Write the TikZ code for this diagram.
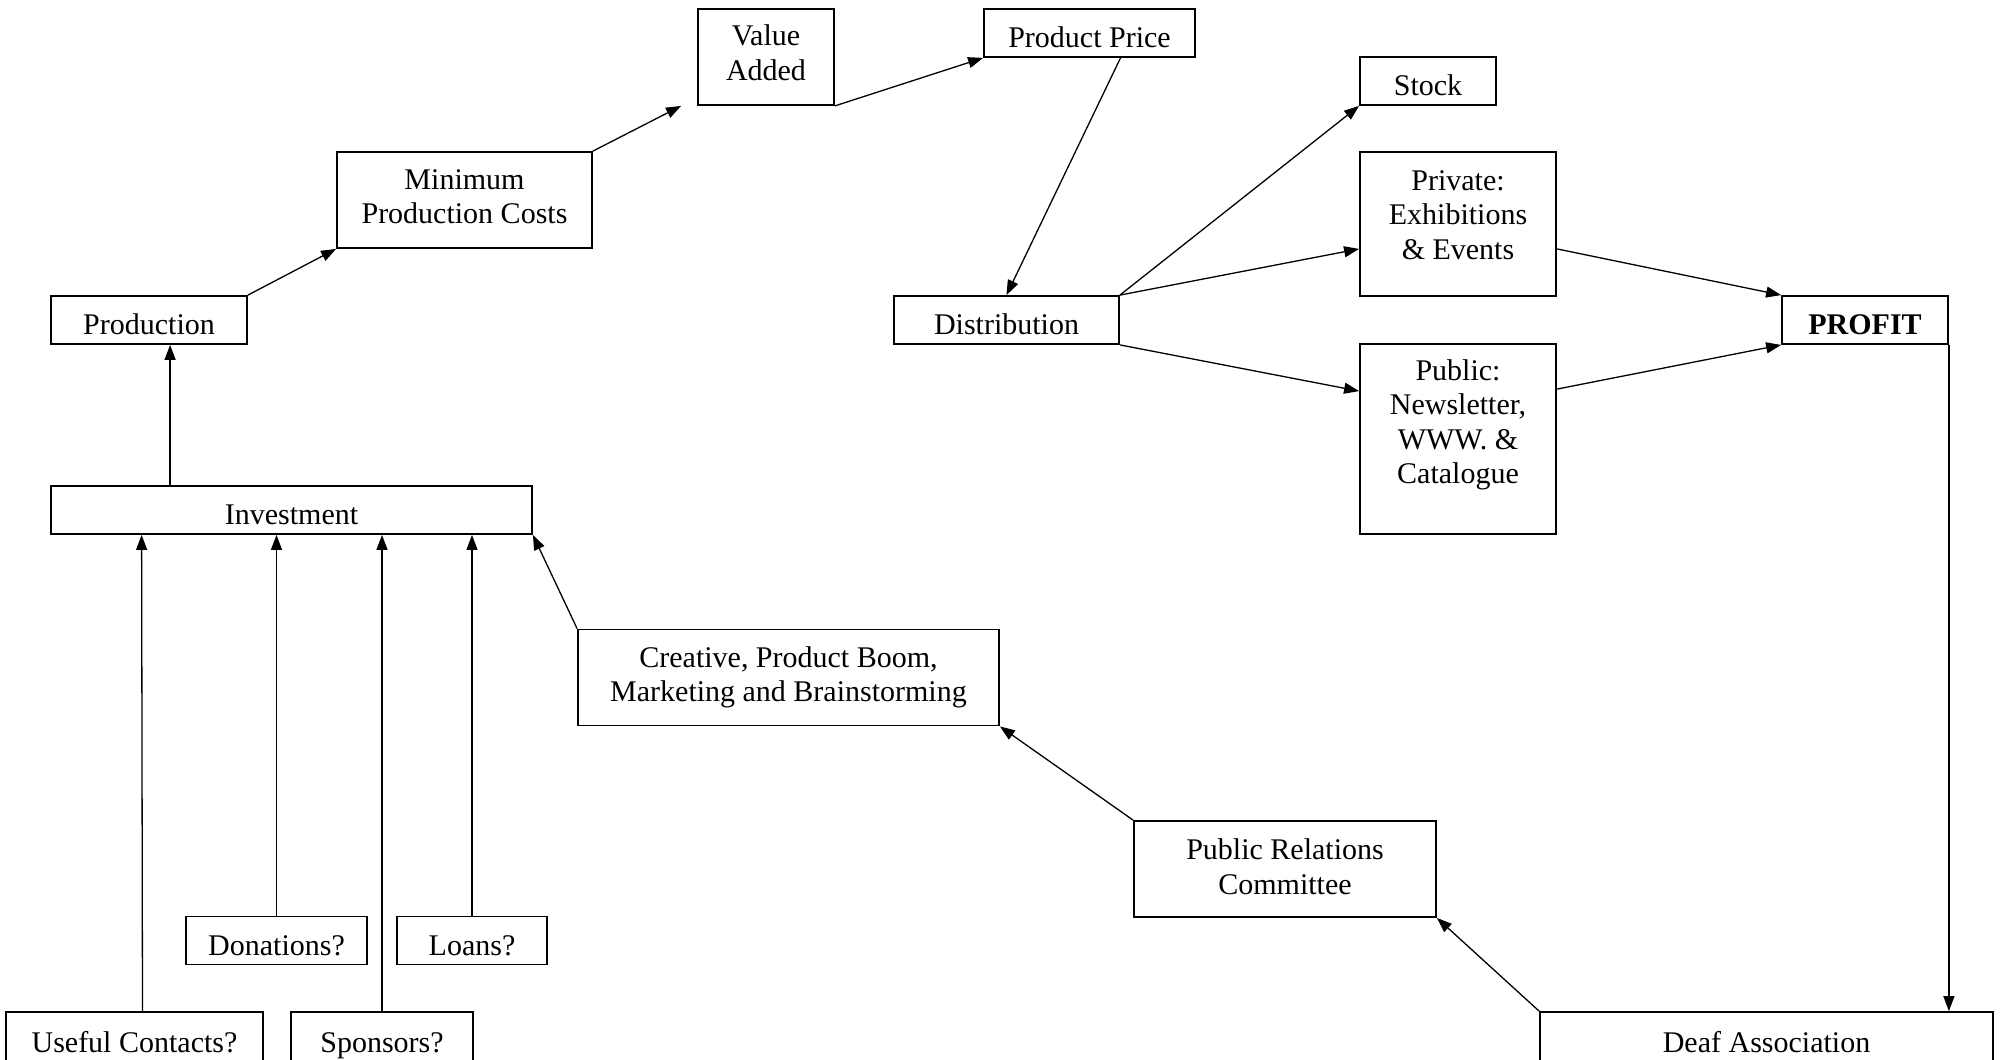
\documentclass[tikz,border=0pt]{standalone}
\usepackage{fontspec}
\setmainfont{Liberation Serif}
\usetikzlibrary{arrows.meta,calc}
\tikzset{
  box/.style={draw, line width=1.8pt, align=center, inner sep=0pt,
    font=\fontsize{30}{34.5}\selectfont},
  oneline/.style={box, minimum height=48pt, text height=29pt, text depth=0pt},
  flow/.style={line width=1.3pt, -{Triangle[length=15pt,width=11pt]}}
}
\newcommand{\myflow}[2]
{
\draw[flow] (#1) -- (#2);
}

\begin{document}
\begin{tikzpicture}[x=1pt,y=-1pt]
  \useasboundingbox (0,0) rectangle (2003,1060);
  \clip (0,0) rectangle (2003,1060);

  \node[oneline, minimum width=196pt] (Production) at (149,320) {Production};
  \node[box, minimum width=255pt, minimum height=96pt] (MinCosts) at (464.5,200) {Minimum\\Production Costs\\[-28pt]\mbox{}};
  \node[box, minimum width=136pt, minimum height=96pt] (ValueAdded) at (766,57) {Value\\Added\\[-26pt]\mbox{}};
  \node[oneline, minimum width=211pt] (Price) at (1089.5,33) {Product Price};
  \node[oneline, minimum width=225pt] (Distribution) at (1006.5,320) {Distribution};
  \node[oneline, minimum width=136pt] (Stock) at (1428,81) {Stock};
  \node[box, minimum width=196pt, minimum height=144pt] (Private) at (1458,224) {Private:\\Exhibitions\\\& Events\\[-16pt]\mbox{}};
  \node[box, minimum width=196pt, minimum height=190pt] (Public) at (1458,439) {Public:\\Newsletter,\\WWW. \&\\Catalogue\\[0pt]\mbox{}};
  \node[oneline, minimum width=166pt] (Profit) at (1865,320) {\textbf{PROFIT}};

  \node[oneline, minimum width=481pt] (Investment) at (291.5,510) {Investment};
  \node[box, minimum width=421pt, minimum height=96pt] (Creative) at (788.5,677.5) {Creative, Product Boom,\\Marketing and Brainstorming};
  \node[box, minimum width=302pt, minimum height=96pt] (Committee) at (1285,869) {Public Relations\\Committee\\[-30pt]\mbox{}};
  \node[oneline, minimum width=181pt] (Donations) at (276.5,940.5) {Donations?};
  \node[oneline, minimum width=150pt] (Loans) at (472,940.5) {Loans?};
  \node[oneline, minimum width=257pt, minimum height=52pt] (Contacts) at (134.5,1038) {Useful Contacts?};
  \node[oneline, minimum width=182pt, minimum height=52pt] (Sponsors) at (382,1038) {Sponsors?};
  \node[oneline, minimum width=453pt, minimum height=52pt] (Deaf) at (1766.5,1038) {Deaf Association};

  % upper chain
  \myflow{$(Investment.north west)+(120,0)$}{$(Production.south west)+(120,0)$}
  \myflow{Production.north east}{MinCosts.south west}
  \myflow{MinCosts.north east}{$(ValueAdded.south west)+(-16,0)$}
  \myflow{ValueAdded.south east}{Price.south west}
  \myflow{$(Price.south)+(31,0)$}{Distribution.north}

  % distribution
  \myflow{Distribution.north east}{Stock.south west}
  \myflow{Distribution.north east}{$(Private.south west)+(0,-48)$}
  \myflow{Distribution.south east}{$(Public.north west)+(0,48)$}
  \myflow{$(Private.south east)+(0,-48)$}{Profit.north west}
  \myflow{$(Public.north east)+(0,46)$}{Profit.south west}
  \myflow{Profit.south east}{Profit.south east |- Deaf.north}

  % back to investment
  \myflow{Deaf.north west}{Committee.south east}
  \myflow{Committee.north west}{Creative.south east}
  \myflow{Creative.north west}{Investment.south east}

  % funding
  \myflow{$(Contacts.north)+(8,0)$}{$(Investment.south west)+(91.5,0)$}
  \myflow{Donations.north}{Donations.north |- Investment.south}
  \myflow{Sponsors.north}{Sponsors.north |- Investment.south}
  \myflow{Loans.north}{Loans.north |- Investment.south}
\end{tikzpicture}
\end{document}
